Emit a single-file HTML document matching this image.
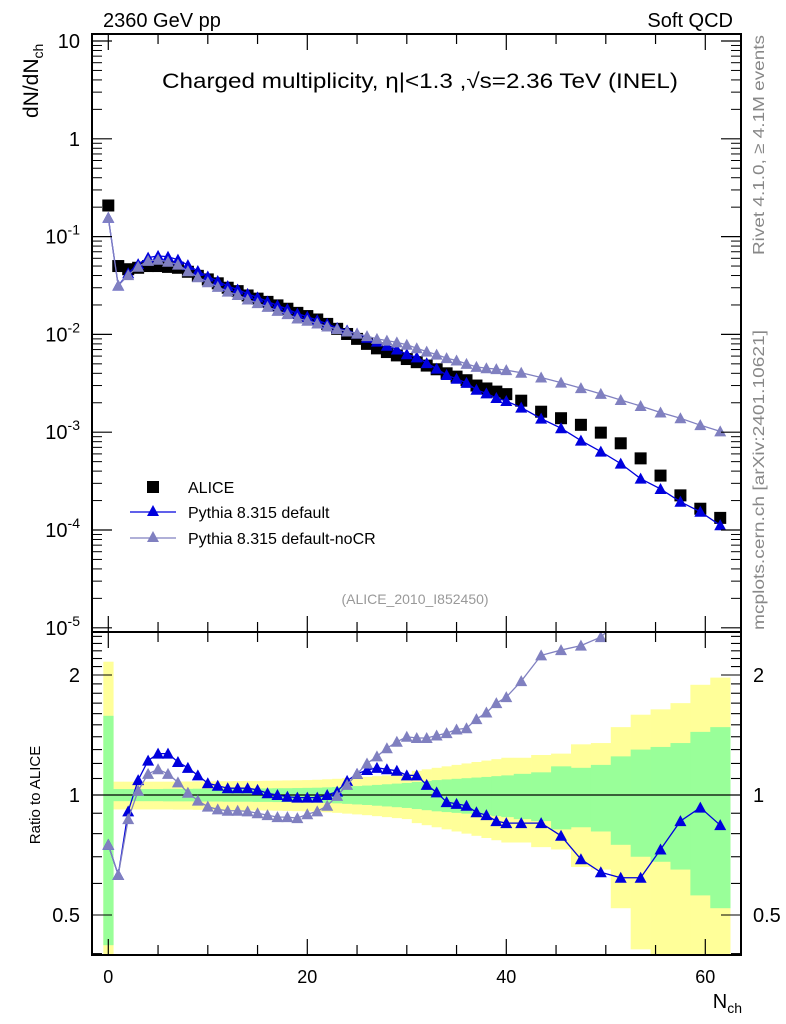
<!DOCTYPE html>
<html><head><meta charset="utf-8">
<style>
body{margin:0;background:#fff;}
svg{display:block;font-family:"Liberation Sans",sans-serif;}
</style></head>
<body>
<svg id="chart" width="786" height="1024" viewBox="0 0 786 1024" xmlns="http://www.w3.org/2000/svg">
<text x="103" y="27" font-size="20">2360 GeV pp</text>
<text x="733" y="27" font-size="20" text-anchor="end">Soft QCD</text>
<text x="162" y="88" font-size="21" textLength="516" lengthAdjust="spacingAndGlyphs">Charged multiplicity, η|&lt;1.3 ,√s=2.36 TeV (INEL)</text>
<text transform="translate(38,118) rotate(-90)" font-size="21">dN/dN<tspan font-size="14" dy="5">ch</tspan></text>
<text transform="translate(40,795) rotate(-90)" font-size="15" text-anchor="middle">Ratio to ALICE</text>
<text x="742" y="1008" font-size="20" text-anchor="end">N<tspan font-size="14" dy="5">ch</tspan></text>
<text transform="translate(764,255) rotate(-90)" font-size="16" fill="#888" textLength="220" lengthAdjust="spacingAndGlyphs">Rivet 4.1.0, ≥ 4.1M events</text>
<text transform="translate(764,630) rotate(-90)" font-size="16" fill="#888" textLength="300" lengthAdjust="spacingAndGlyphs">mcplots.cern.ch [arXiv:2401.10621]</text>
<text x="415" y="604" font-size="14" fill="#999" text-anchor="middle">(ALICE_2010_I852450)</text>
<g id="bands"></g>
<g id="marks"></g>
<g id="axes"></g>
<g>
<rect x="147" y="481" width="12" height="12" fill="#000"/>
<text x="188" y="493" font-size="16">ALICE</text>
<line x1="130" y1="512" x2="176" y2="512" stroke="#0000dd" stroke-width="1.3"/>
<polygon points="153,505 159,516 147,516" fill="#0000dd"/>
<text x="188" y="518" font-size="16">Pythia 8.315 default</text>
<line x1="130" y1="538" x2="176" y2="538" stroke="#8080c0" stroke-width="1.3"/>
<polygon points="153,531 159,542 147,542" fill="#8080c0"/>
<text x="188" y="544" font-size="16">Pythia 8.315 default-noCR</text>
</g>
</svg>
<script>
const nch = [0,1,2,3,4,5,6,7,8,9,10,11,12,13,14,15,16,17,18,19,20,21,22,23,24,25,26,27,28,29,30,31,32,33,34,35,36,37,38,39,40,41.5,43.5,45.5,47.5,49.5,51.5,53.5,55.5,57.5,59.5,61.5];
const alice = [0.208,0.050,0.0464,0.048,0.050,0.050,0.049,0.048,0.0437,0.0397,0.0365,0.0333,0.030,0.0277,0.025,0.0232,0.0215,0.0198,0.0183,0.0166,0.0154,0.0142,0.0128,0.0114,0.0101,0.0090,0.0080,0.0072,0.0066,0.0061,0.0056,0.0052,0.0048,0.0044,0.0040,0.0037,0.0034,0.0030,0.0028,0.0026,0.00245,0.0021,0.00162,0.00139,0.00119,0.00099,0.00077,0.00054,0.00036,0.000226,0.000165,0.000133];
const ratioDefault = [0.75,0.63,0.91,1.09,1.22,1.27,1.27,1.21,1.17,1.12,1.07,1.055,1.04,1.04,1.04,1.03,1.01,1.0,0.99,0.985,0.985,0.985,1.0,1.02,1.085,1.13,1.155,1.17,1.16,1.15,1.12,1.12,1.06,1.015,0.96,0.95,0.94,0.905,0.89,0.86,0.85,0.85,0.85,0.79,0.69,0.64,0.62,0.62,0.73,0.86,0.93,0.84];
const ratioNoCR = [0.75,0.63,0.87,1.025,1.13,1.16,1.13,1.076,1.013,0.968,0.935,0.92,0.913,0.913,0.91,0.9,0.89,0.88,0.88,0.875,0.895,0.91,0.94,0.995,1.06,1.13,1.2,1.25,1.31,1.36,1.4,1.39,1.39,1.41,1.43,1.46,1.47,1.55,1.61,1.70,1.76,1.93,2.24,2.31,2.37,2.49,2.77,3.43,4.42,6.15,7.15,7.67];
const errGreen = [0.58,0.035,0.035,0.035,0.035,0.035,0.036,0.036,0.036,0.037,0.037,0.037,0.038,0.038,0.038,0.039,0.039,0.04,0.04,0.041,0.042,0.043,0.045,0.047,0.05,0.053,0.056,0.06,0.064,0.068,0.072,0.078,0.084,0.09,0.094,0.098,0.102,0.106,0.11,0.115,0.12,0.13,0.14,0.18,0.17,0.19,0.25,0.30,0.32,0.35,0.44,0.48];
const errYellow = [1.16,0.08,0.08,0.08,0.08,0.08,0.08,0.081,0.081,0.082,0.082,0.083,0.083,0.084,0.085,0.085,0.086,0.087,0.088,0.089,0.09,0.092,0.095,0.098,0.102,0.106,0.11,0.115,0.12,0.125,0.13,0.15,0.16,0.17,0.18,0.19,0.2,0.21,0.22,0.23,0.24,0.24,0.26,0.27,0.34,0.35,0.48,0.59,0.64,0.70,0.89,0.97];
const xTicks = [0,20,40,60];
const NS="http://www.w3.org/2000/svg";
const L=92,R=741,T=34,MID=632,B=955;
const xs=n=>108.3+9.95*n;
const ys=v=>41-97.8*(Math.log10(v)-1);
const yr=r=>795-398.6*Math.log10(r);
function el(tag,attrs,parent){const e=document.createElementNS(NS,tag);for(const k in attrs)e.setAttribute(k,attrs[k]);parent.appendChild(e);return e;}
const bands=document.getElementById('bands'),marks=document.getElementById('marks'),axes=document.getElementById('axes');
function edges(i){
  let lo,hi;
  if(i===0){lo=-0.5;hi=0.5;}
  else{const prev=nch[i-1],cur=nch[i];lo=(prev+cur)/2;hi=i<nch.length-1?(cur+nch[i+1])/2:cur+1;}
  return [Math.max(xs(lo),L),Math.min(xs(hi),R)];
}
const clipR=v=>Math.min(Math.max(v,0.3),3);
for(let i=0;i<nch.length;i++){
  const [a,b]=edges(i);
  const yt=Math.max(yr(clipR(1+errYellow[i])),MID), yb=Math.min(yr(clipR(Math.max(1-errYellow[i],0.01))),B);
  const y1=el('rect',{x:a,y:yt,width:b-a+0.3,height:yb-yt,fill:'#ffff99'},bands);
  
  
}
for(let i=0;i<nch.length;i++){
  const [a,b]=edges(i);
  const yt=Math.max(yr(1+errGreen[i]),MID), yb=Math.min(yr(Math.max(1-errGreen[i],0.01)),B);
  const g=el('rect',{x:a,y:yt,width:b-a+0.3,height:yb-yt,fill:'#99ff99'},bands);
  
  
}
const ref=el('line',{x1:L,x2:R,y1:yr(1),y2:yr(1),stroke:'#000','stroke-width':1.2},bands);


const defs=el('defs',{},marks);
const c1=el('clipPath',{id:'ctop'},defs);el('rect',{x:L,y:T,width:R-L,height:MID-T},c1);
const c2=el('clipPath',{id:'cbot'},defs);el('rect',{x:L,y:MID,width:R-L,height:B-MID},c2);
const gTop=el('g',{'clip-path':'url(#ctop)'},marks);
const gBot=el('g',{'clip-path':'url(#cbot)'},marks);
function tri(g,x,y,c,name){const p=el('polygon',{points:`${x},${y-6} ${x+6},${y+5} ${x-6},${y+5}`,fill:c},g);
  
  }
function series(g,ratio,yfun,c,name,useAlice){
  const pts=nch.map((n,i)=>[xs(n),useAlice?yfun(alice[i]*ratio[i]):yfun(ratio[i])]);
  const pl=el('polyline',{points:pts.map(p=>p.join(',')).join(' '),fill:'none',stroke:c,'stroke-width':1.3},g);
  
  
  pts.forEach(p=>tri(g,p[0],p[1],c,name+'-point'));
}
nch.forEach((n,i)=>{const r=el('rect',{x:xs(n)-6,y:ys(alice[i])-6,width:12,height:12,fill:'#000'},gTop);
  
  });
series(gTop,ratioDefault,ys,'#0000dd','pythia-default',true);
series(gTop,ratioNoCR,ys,'#8080c0','pythia-nocr',true);
series(gBot,ratioDefault,yr,'#0000dd','ratio-pythia-default',false);
series(gBot,ratioNoCR,yr,'#8080c0','ratio-pythia-nocr',false);
[[T,MID],[MID,B]].forEach(([a,b],k)=>{const f=el('rect',{x:L,y:a,width:R-L,height:b-a,fill:'none',stroke:'#000','stroke-width':2},axes);
  
  });
for(let v=0;v<=63;v+=5){const x=xs(v);const big=v%20===0?1:0;const len=big?16:10;
  [[T,1],[MID,-1],[MID,1],[B,-1]].forEach(([y,d])=>el('line',{x1:x,x2:x,y1:y,y2:y+d*len,stroke:'#000','stroke-width':1.2},axes));}
xTicks.forEach(v=>{const t=el('text',{x:xs(v),y:983,'font-size':18,'text-anchor':'middle'},axes);t.textContent=v;
  
  });
for(let e=-5;e<=1;e++){
  const y=ys(Math.pow(10,e));
  [[L,1],[R,-1]].forEach(([x,d])=>el('line',{x1:x,x2:x+d*20,y1:y,y2:y,stroke:'#000','stroke-width':1.2},axes));
  if(e<1)for(let m=2;m<=9;m++){const yy=ys(m*Math.pow(10,e));if(yy<T)continue;
    [[L,1],[R,-1]].forEach(([x,d])=>el('line',{x1:x,x2:x+d*10,y1:yy,y2:yy,stroke:'#000','stroke-width':1},axes));}
  const t=el('text',{x:80,y:y+7,'font-size':20,'text-anchor':'end'},axes);
  
  
  if(e===1)t.textContent='10';else if(e===0)t.textContent='1';
  else{t.textContent='10';const s=el('tspan',{dy:-9,'font-size':14},t);s.textContent=String(e);}
}
[0.4,0.5,0.6,0.7,0.8,0.9,1,1.1,1.2,1.3,1.4,1.5,1.6,1.7,1.8,1.9,2,2.1,2.2,2.3,2.4,2.5].forEach(v=>{
  const y=yr(v);const big=(v===0.5||v===1||v===2);
  [[L,1],[R,-1]].forEach(([x,d])=>el('line',{x1:x,x2:x+d*(big?20:10),y1:y,y2:y,stroke:'#000','stroke-width':1.1},axes));
  if(big){[[80,'end'],[753,'start']].forEach(([x,a])=>{const t=el('text',{x:x,y:y+7,'font-size':20,'text-anchor':a},axes);t.textContent=String(v);
    
    });}
});
</script>
</body></html>
